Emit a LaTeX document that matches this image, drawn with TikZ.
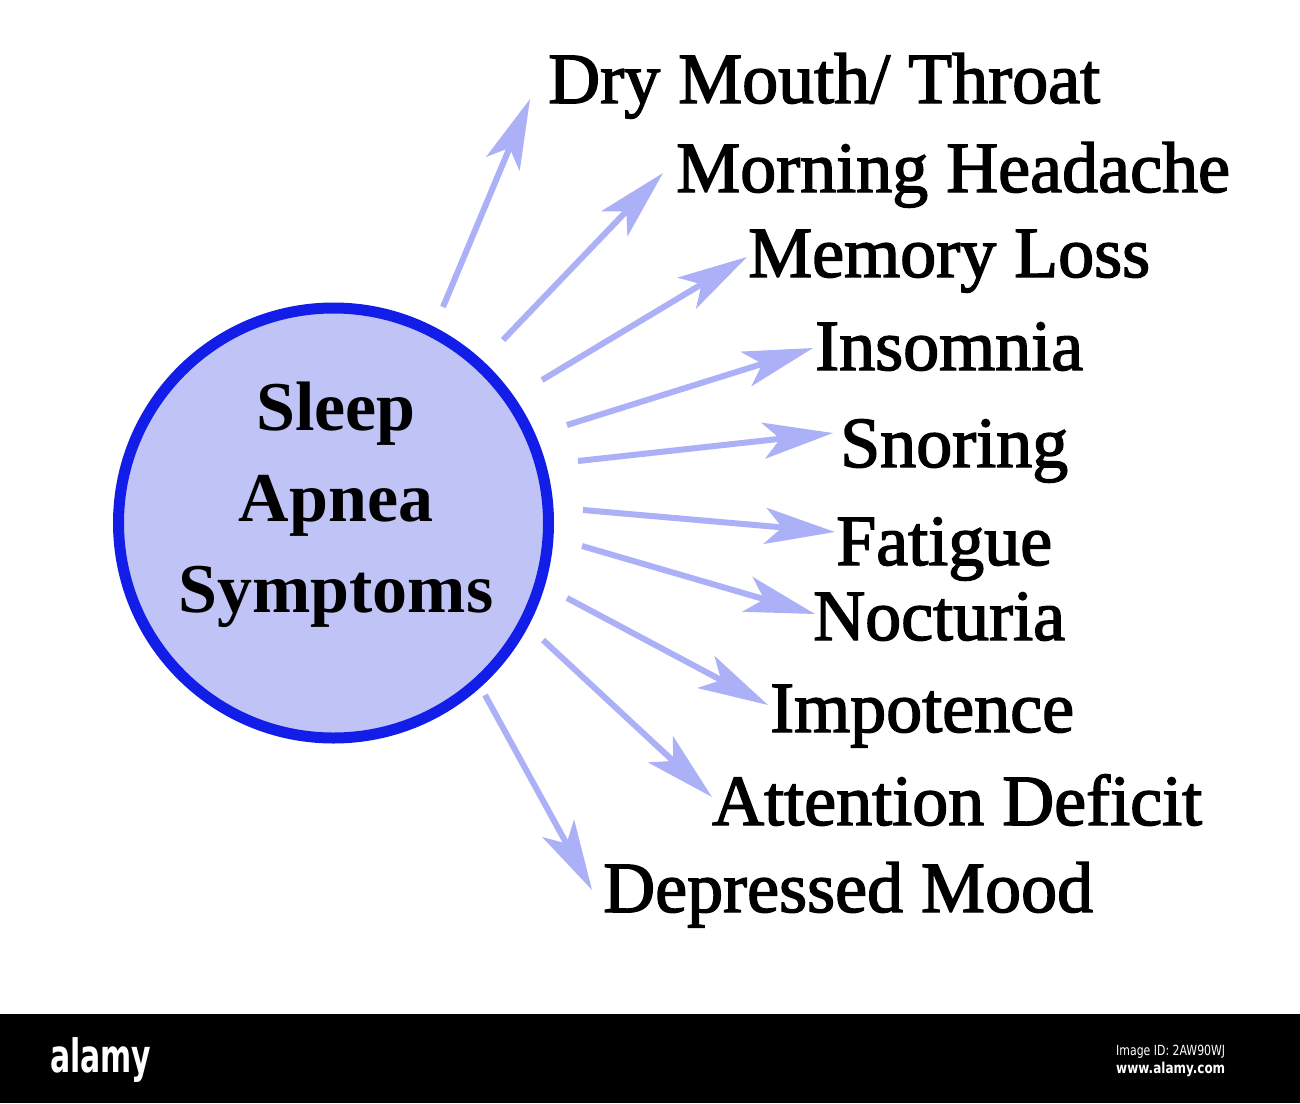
\documentclass[tikz,border=0pt]{standalone}
\usepackage{fontspec}
\setmainfont{Liberation Serif}
\newfontfamily\lblfont[FakeBold=2]{Liberation Serif}
\newfontfamily\wmfont{DejaVu Sans}
\usetikzlibrary{arrows.meta}
\definecolor{hubfill}{RGB}{192,195,246}
\definecolor{hubline}{RGB}{18,30,232}
\definecolor{arrowc}{RGB}{172,176,246}
\tikzset{
  symarrow/.style={draw=arrowc, line width=6pt, line cap=butt,
    -{Stealth[length=70pt,width=36pt,inset=17pt]}},
  symlabel/.style={anchor=base west, inner sep=0pt, font=\lblfont\fontsize{72}{80}\selectfont},
  hub/.style={circle, draw=hubline, line width=11pt, fill=hubfill, minimum size=430pt, inner sep=0pt},
}
\begin{document}
\begin{tikzpicture}[x=1pt,y=-1pt]
\path[use as bounding box, fill=white] (0,0) rectangle (1300,1103);
% hub
\node[hub] (hub) at (333.5,523) {};
\node[align=center, inner sep=0pt, anchor=base, font=\fontsize{70}{91}\selectfont\bfseries] (hubtext) at (336,612) {Sleep\\Apnea\\Symptoms};
% labels
\node[symlabel] (l1) at (548,103) {Dry Mouth/ Throat};
\node[symlabel] (l2) at (676,192) {Morning Headache};
\node[symlabel] (l3) at (748,277) {Memory Loss};
\node[symlabel] (l4) at (815,370) {Insomnia};
\node[symlabel] (l5) at (840,467) {Snoring};
\node[symlabel] (l6) at (836,565) {Fatigue};
\node[symlabel] (l7) at (813,640) {Nocturia};
\node[symlabel] (l8) at (770,732) {Impotence};
\node[symlabel] (l9) at (712,825) {Attention Deficit};
\node[symlabel] (l10) at (603,912) {Depressed Mood};
% arrow ends
\coordinate (s1) at (443,307);  \coordinate (t1) at (530,99);
\coordinate (s2) at (503,340);  \coordinate (t2) at (663,173);
\coordinate (s3) at (542,380);  \coordinate (t3) at (747,257);
\coordinate (s4) at (567,425);  \coordinate (t4) at (813,348);
\coordinate (s5) at (578,461);  \coordinate (t5) at (833,433);
\coordinate (s6) at (583,510);  \coordinate (t6) at (835,532);
\coordinate (s7) at (582,546);  \coordinate (t7) at (815,614);
\coordinate (s8) at (567,598);  \coordinate (t8) at (768,705);
\coordinate (s9) at (543,640);  \coordinate (t9) at (712,797);
\coordinate (s10) at (485,695); \coordinate (t10) at (592,890);
\foreach \i in {1,...,10} {\draw[symarrow] (s\i) -- (t\i);}
% watermark bar
\fill[black] (0,1014) rectangle (1300,1103);
\node[anchor=west, inner sep=0pt, text=white, font=\wmfont\fontsize{46}{46}\selectfont\bfseries] (wm) at (50,1060) {\scalebox{0.65}[1]{alamy}};
\node[anchor=west, inner sep=0pt, text=white, font=\wmfont\fontsize{14}{14}\selectfont] (wmid) at (1116,1052) {\scalebox{0.78}[1]{Image ID: 2AW90WJ}};
\node[anchor=west, inner sep=0pt, text=white, font=\wmfont\fontsize{15}{15}\selectfont\bfseries] (wmurl) at (1116,1069) {\scalebox{0.8}[1]{www.alamy.com}};
\end{tikzpicture}
\end{document}
